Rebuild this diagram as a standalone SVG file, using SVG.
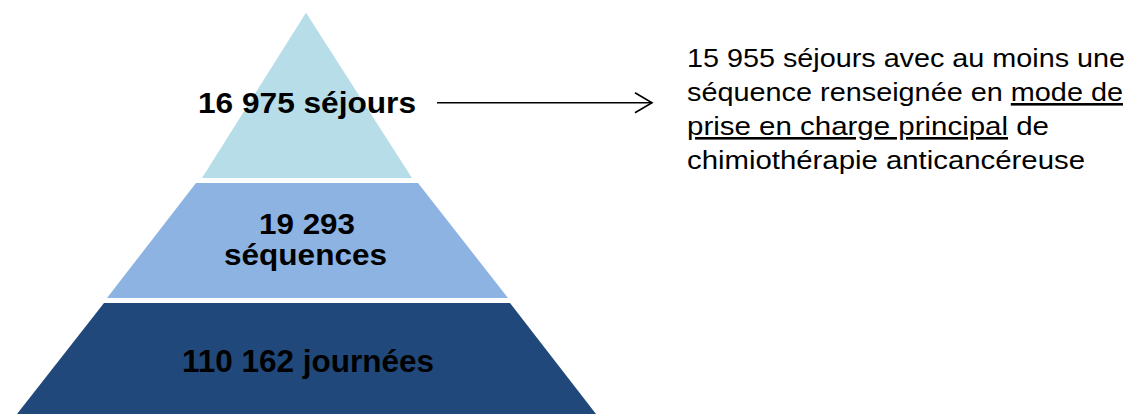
<svg xmlns="http://www.w3.org/2000/svg" width="1135" height="414" viewBox="0 0 1135 414">
<style>
.lbl{font-family:"Liberation Sans",Arial,sans-serif;font-weight:bold;font-size:29px;fill:#000;text-anchor:middle}
.big{font-size:31px}
.note{font-family:"Liberation Sans",Arial,sans-serif;font-size:26px;fill:#000}
.u{text-decoration:underline}
</style>
<defs>
<marker id="open" viewBox="0 0 20 22" refX="18" refY="11" markerWidth="20" markerHeight="22" markerUnits="userSpaceOnUse" orient="auto">
<path d="M1,1 L18,11 L1,21" fill="none" stroke="#000" stroke-width="1.6"/>
</marker>
</defs>
<rect width="1135" height="414" fill="#fff"/>
<g id="tier-sejours">
<polygon points="306,12.7 412,178 202,178" fill="#B7DDE8"/>
<text class="lbl" x="307" y="113" textLength="218" lengthAdjust="spacingAndGlyphs">16 975 séjours</text>
</g>
<g id="tier-sequences">
<polygon points="196,183 418,183 508,298 107,298" fill="#8DB3E2"/>
<text class="lbl" x="307" y="234" textLength="96" lengthAdjust="spacingAndGlyphs">19 293</text>
<text class="lbl" x="305.5" y="265" textLength="163" lengthAdjust="spacingAndGlyphs">séquences</text>
</g>
<g id="tier-journees">
<polygon points="104,303 510,303 596,414 17,414" fill="#21487A"/>
<text class="lbl big" x="308" y="372" textLength="252" lengthAdjust="spacingAndGlyphs">110 162 journées</text>
</g>
<g id="note">
<text class="note" x="687" y="67" textLength="438" lengthAdjust="spacingAndGlyphs">15 955 séjours avec au moins une</text>
<text class="note" x="687" y="101" textLength="436" lengthAdjust="spacingAndGlyphs">séquence renseignée en <tspan class="u">mode de</tspan></text>
<text class="note" x="687" y="135" textLength="362" lengthAdjust="spacingAndGlyphs"><tspan class="u">prise en charge principal</tspan> de</text>
<text class="note" x="687" y="169" textLength="398" lengthAdjust="spacingAndGlyphs">chimiothérapie anticancéreuse</text>
</g>
<g id="connectors">
<line x1="437" y1="102.7" x2="652" y2="102.7" stroke="#000" stroke-width="1.5" marker-end="url(#open)"/>
</g>
</svg>
